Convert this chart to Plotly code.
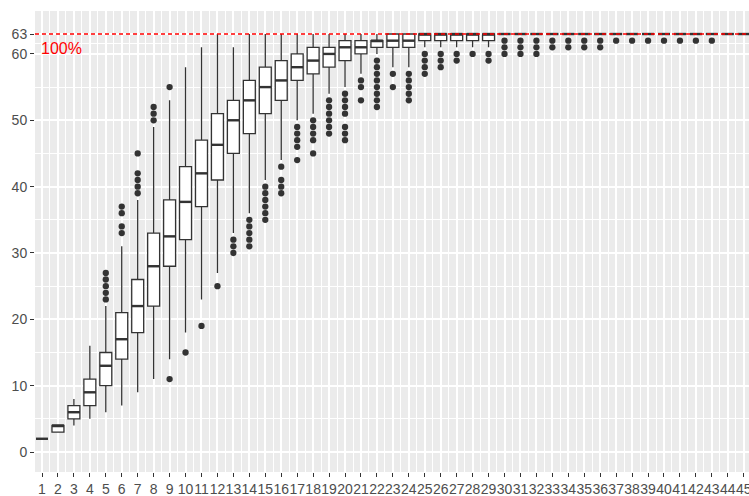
import plotly.graph_objects as go

# ---- data ----
cats = list(range(1, 46))
tick_labels = [str(c) for c in cats]

lower = [2, 3, 4, 5, 6, 7, 9, 11, 14, 18, 23, 27, 33, 36, 41, 44, 50, 51, 54, 55,
         57, 60, 58, 58, 61, 61, 61, 61, 61] + [63] * 16
q1 = [2, 3, 5, 7, 10, 14, 18, 22, 28, 32, 37, 41, 45, 48, 51, 53, 56, 57, 58, 59,
      60, 61, 61, 61, 62, 62, 62, 62, 62] + [63] * 16
median = [2, 4, 6, 9, 13, 17, 22, 28, 32.5, 37.7, 42, 46.3, 50, 53, 55, 56, 58, 59, 60, 61,
          61, 62, 62, 62, 63, 63, 63, 63, 63] + [63] * 16
q3 = [2, 4, 7, 11, 15, 21, 26, 33, 38, 43, 47, 51, 53, 56, 58, 59, 60, 61, 61, 62,
      62, 62, 63, 63, 63, 63, 63, 63, 63] + [63] * 16
upper = [2, 4, 8, 16, 22, 31, 38, 49, 53, 58, 61, 63, 61, 63, 63, 63, 63, 63, 63, 63,
         63, 63, 63, 63, 63, 63, 63, 63, 63] + [63] * 16

outliers = [
    [], [], [], [],
    [23, 24, 25, 26, 27],
    [33, 34, 36, 37],
    [39, 40, 41, 42, 45],
    [50, 51, 52],
    [11, 55],
    [15],
    [19],
    [25],
    [30, 31, 32],
    [31, 32, 33, 34, 35],
    [35, 36, 37, 38, 39, 40],
    [39, 40, 41, 43],
    [44, 46, 47, 48, 49],
    [45, 47, 48, 49, 50],
    [48, 49, 50, 51, 52, 53],
    [47, 48, 49, 51, 52, 53, 54],
    [53, 55, 56],
    [52, 53, 54, 55, 56, 57, 58, 59],
    [55, 57],
    [53, 54, 55, 56, 57],
    [57, 58, 59, 60],
    [58, 59, 60],
    [59, 60],
    [60],
    [59, 60],
    [60, 61, 62],
    [60, 61, 62],
    [60, 61, 62],
    [61, 62], [61, 62], [61, 62], [61, 62],
    [62], [62], [62], [62], [62], [62], [62],
    [], [],
]

max_value = 63
label_text = "100%"
y_ticks = [0, 10, 20, 30, 40, 50, 60, 63]

# ---- styling ----
BOX_COLOR = "#333333"
BOX_W = 0.75
FONT = "Liberation Sans, Arial, sans-serif"

fig = go.Figure()

fig.add_trace(go.Box(
    x=cats, q1=q1, median=median, q3=q3,
    lowerfence=lower, upperfence=upper,
    width=BOX_W, boxpoints=False,
    fillcolor="white",
    line=dict(color=BOX_COLOR, width=1.3),
    whiskerwidth=0,
    showlegend=False, hoverinfo="skip",
))

# thicker median lines (ggplot fatten)
mx, my = [], []
for c, m in zip(cats, median):
    mx += [c - BOX_W / 2, c + BOX_W / 2, None]
    my += [m, m, None]
fig.add_trace(go.Scatter(x=mx, y=my, mode="lines",
                         line=dict(color=BOX_COLOR, width=2.4),
                         showlegend=False, hoverinfo="skip"))

# outliers
ox, oy = [], []
for c, vals in zip(cats, outliers):
    for v in vals:
        ox.append(c)
        oy.append(v)
fig.add_trace(go.Scatter(x=ox, y=oy, mode="markers",
                         marker=dict(color=BOX_COLOR, size=6.3, line=dict(width=0)),
                         showlegend=False, hoverinfo="skip"))

# reference line at max
fig.add_shape(type="line", xref="paper", x0=0, x1=1, yref="y",
              y0=max_value, y1=max_value,
              line=dict(color="#FF0000", width=1.4, dash="4px,3px"), layer="above")

fig.add_annotation(x=2.25, y=60.8, text=label_text, showarrow=False,
                   font=dict(color="red", size=16, family=FONT),
                   xanchor="center", yanchor="middle")

half = [c + 0.5 for c in cats]
y_minor = [5, 15, 25, 35, 45, 55, 61.5]

fig.update_layout(
    width=749, height=496,
    margin=dict(l=35, r=0, t=11, b=24, autoexpand=False),
    paper_bgcolor="white", plot_bgcolor="#EBEBEB",
    font=dict(family=FONT, size=14, color="#4D4D4D"),
    showlegend=False,
)
fig.update_xaxes(
    range=[0.561, 45.33], tickmode="array", tickvals=cats, ticktext=tick_labels,
    tickangle=0, ticks="outside", ticklen=4, tickwidth=1, tickcolor="#333333",
    showgrid=True, gridcolor="white", gridwidth=1.6, zeroline=False, showline=False,
    automargin=False, ticklabeloverflow="allow",
    tickfont=dict(size=14, color="#4D4D4D"),
    minor=dict(tickmode="array", tickvals=half, showgrid=True,
               gridcolor="white", gridwidth=0.8, ticks=""),
)
fig.update_yaxes(
    range=[-3.01, 66.47], tickmode="array", tickvals=y_ticks,
    ticktext=[str(v) for v in y_ticks],
    ticks="outside", ticklen=4, tickwidth=1, tickcolor="#333333",
    showgrid=True, gridcolor="white", gridwidth=1.6, zeroline=False, showline=False,
    automargin=False,
    tickfont=dict(size=14, color="#4D4D4D"),
    minor=dict(tickmode="array", tickvals=y_minor, showgrid=True,
               gridcolor="white", gridwidth=0.8, ticks=""),
)

fig.write_html("out.html", config={"displayModeBar": False},
               post_script="document.body.style.margin='0';")
